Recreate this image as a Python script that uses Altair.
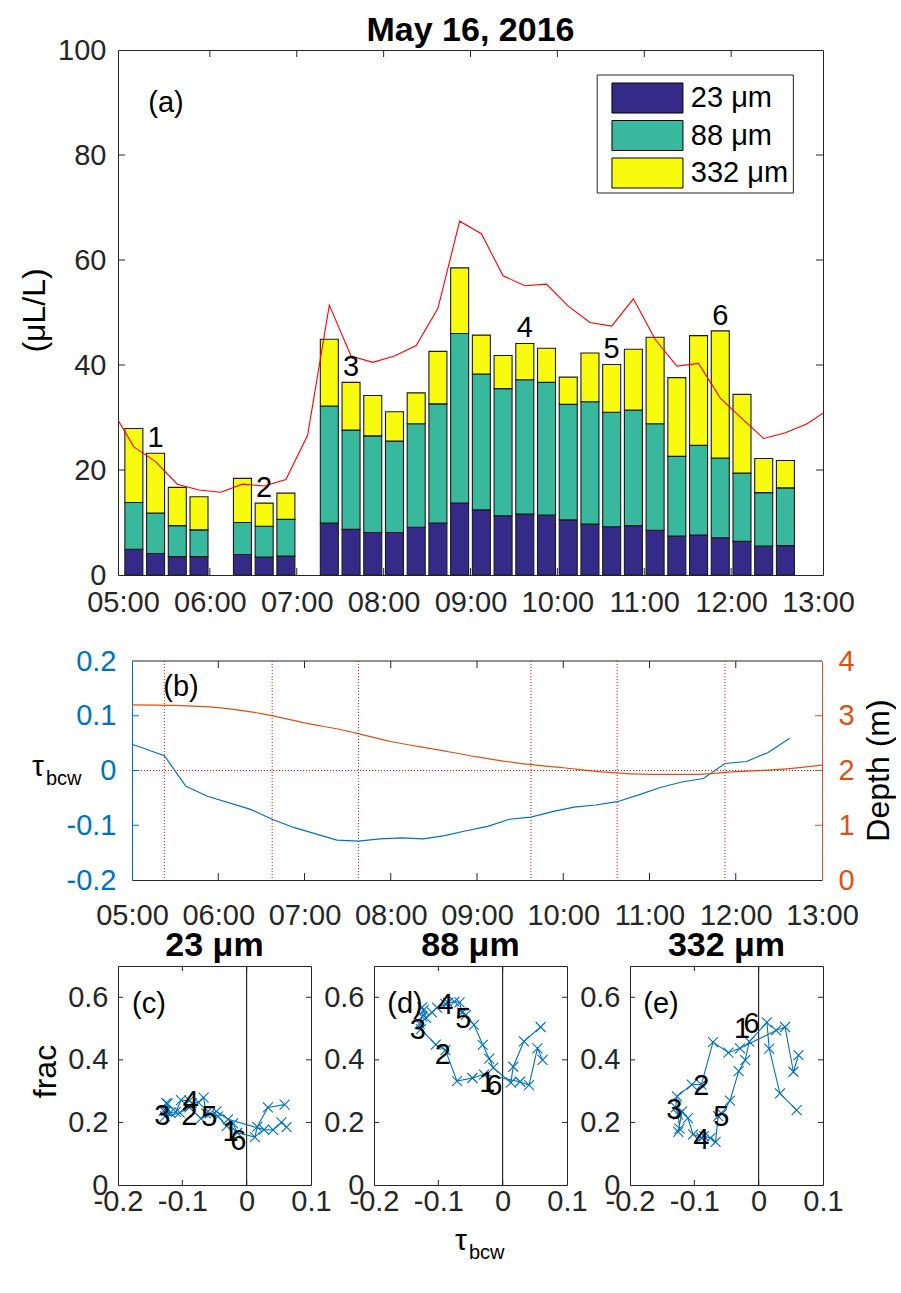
import altair as alt
import pandas as pd

FONT = "Liberation Sans"
AXIS_GREY = "#262626"
BLUE = "#0072BD"
ORANGE = "#D95319"
SIZE_NAMES = ["23 μm", "88 μm", "332 μm"]
SIZE_COLORS = ["#352A87", "#38B99E", "#F9FB0E"]

# ---------------- (a) volume concentration per 15-min bin ----------------
bar_times = ["05:07:30", "05:22:30", "05:37:30", "05:52:30", "06:22:30", "06:37:30",
             "06:52:30", "07:22:30", "07:37:30", "07:52:30", "08:07:30", "08:22:30",
             "08:37:30", "08:52:30", "09:07:30", "09:22:30", "09:37:30", "09:52:30",
             "10:07:30", "10:22:30", "10:37:30", "10:52:30", "11:07:30", "11:22:30",
             "11:37:30", "11:52:30", "12:07:30", "12:22:30", "12:37:30"]
vol_23 = [4.9, 4.1, 3.5, 3.5, 3.9, 3.4, 3.6, 9.9, 8.7, 8.1, 8.1, 9.1, 9.9, 13.7, 12.4,
          11.3, 11.6, 11.4, 10.5, 9.7, 9.2, 9.4, 8.5, 7.4, 7.6, 7.1, 6.4, 5.5, 5.6]
vol_88 = [8.9, 7.7, 5.9, 5.1, 6.1, 5.9, 7.0, 22.3, 18.9, 18.4, 17.4, 19.7, 22.7, 32.3, 25.9,
          24.2, 25.6, 25.3, 22.0, 23.3, 21.8, 22.0, 20.3, 15.2, 17.1, 15.2, 13.0, 10.2, 11.0]
vol_332 = [14.1, 11.4, 7.3, 6.3, 8.4, 4.4, 5.0, 12.7, 9.1, 7.7, 5.6, 5.9, 10.0, 12.5, 7.4,
           6.3, 6.9, 6.5, 5.2, 9.3, 9.1, 11.6, 16.5, 15.0, 20.9, 24.2, 15.0, 6.5, 5.2]

# red reference curve (15-min samples, runs past both ends of the axis)
curve_times = ["04:52:30", "05:07:30", "05:22:30", "05:37:30", "05:52:30", "06:07:30",
               "06:22:30", "06:37:30", "06:52:30", "07:07:30", "07:22:30", "07:37:30",
               "07:52:30", "08:07:30", "08:22:30", "08:37:30", "08:52:30", "09:07:30",
               "09:22:30", "09:37:30", "09:52:30", "10:07:30", "10:22:30", "10:37:30",
               "10:52:30", "11:07:30", "11:22:30", "11:37:30", "11:52:30", "12:07:30",
               "12:22:30", "12:37:30", "12:52:30", "13:07:30"]
curve_vals = [31.4, 24.4, 21.6, 17.3, 16.2, 15.75, 17.3, 16.95, 18.2, 26.6, 51.4, 41.7,
              40.5, 41.7, 43.7, 50.8, 67.4, 65.0, 57.0, 55.1, 55.4, 51.2, 48.1, 47.4,
              52.6, 44.9, 39.8, 40.3, 33.7, 29.8, 26.0, 27.1, 28.8, 31.6]

event_labels = ["1", "2", "3", "4", "5", "6"]
event_times = ["05:22:30", "06:37:30", "07:37:30", "09:37:30", "10:37:30", "11:52:30"]

# ---------------- (b) wave bed stress and water depth ----------------
tau_times = ["04:37:30", "04:52:30"] + bar_times
tau_bcw = [0.062, 0.054, 0.041, 0.027, -0.029, -0.047, -0.071, -0.089, -0.104, -0.127,
           -0.129, -0.125, -0.123, -0.125, -0.119, -0.110, -0.102, -0.089, -0.085, -0.075,
           -0.067, -0.063, -0.057, -0.0445, -0.031, -0.021, -0.0146, 0.0128, 0.0164,
           0.033, 0.059]
tau_at_start = 0.048  # value where the stress curve meets 05:00

depth_times = ["05:00", "05:30", "06:00", "06:30", "07:00", "07:30", "08:00", "08:30",
               "09:00", "09:30", "10:00", "10:30", "11:00", "11:30", "12:00", "12:30", "13:00"]
depth_m = [3.20, 3.19, 3.15, 3.04, 2.87, 2.72, 2.53, 2.39, 2.25, 2.13, 2.05, 1.97, 1.93,
           1.93, 1.98, 2.02, 2.10]

# ---------------- (c)-(e) volume fraction of each size class ----------------
frac_23 = [0.185, 0.20, 0.176, 0.177, 0.210, 0.235, 0.212, 0.248, 0.231, 0.219, 0.237,
           0.237, 0.260, 0.262, 0.231, 0.234, 0.271, 0.270, 0.262, 0.264, 0.279, 0.229,
           0.229, 0.219, 0.188, 0.197, 0.167, 0.153, 0.186, 0.248, 0.257]
frac_88 = [0.40, 0.437, 0.319, 0.330, 0.353, 0.342, 0.332, 0.431, 0.449, 0.498, 0.515,
           0.538, 0.559, 0.568, 0.534, 0.552, 0.567, 0.579, 0.582, 0.586, 0.584, 0.551,
           0.544, 0.512, 0.448, 0.404, 0.375, 0.327, 0.378, 0.459, 0.505]
frac_332 = [0.415, 0.362, 0.505, 0.494, 0.437, 0.423, 0.457, 0.321, 0.321, 0.283, 0.248,
            0.225, 0.180, 0.170, 0.235, 0.214, 0.162, 0.151, 0.156, 0.150, 0.138, 0.220,
            0.227, 0.270, 0.364, 0.399, 0.458, 0.520, 0.436, 0.293, 0.239]

# event numbers inside the fraction panels (tau, frac)
lab_c_tau = [-0.025, -0.089, -0.131, -0.087, -0.058, -0.013]
lab_c_frac = [0.169, 0.220, 0.222, 0.265, 0.217, 0.142]
lab_d_tau = [-0.024, -0.093, -0.132, -0.089, -0.061, -0.013]
lab_d_frac = [0.327, 0.417, 0.494, 0.575, 0.530, 0.318]
lab_e_tau = [-0.026, -0.089, -0.131, -0.089, -0.058, -0.011]
lab_e_frac = [0.498, 0.315, 0.241, 0.144, 0.218, 0.514]


def hours(stamp):
    parts = [int(p) for p in stamp.split(":")]
    sec = parts[2] if len(parts) > 2 else 0
    return parts[0] + parts[1] / 60 + sec / 3600


HOUR_LABEL = "(datum.value < 10 ? '0' : '') + datum.value + ':00'"
PLAIN_LABEL = "'' + datum.value"
LABEL_SIZE = 29
TITLE_SIZE = 32
HEAD_SIZE = 34


def text_tag(label, x, y, size=LABEL_SIZE, align="center"):
    return alt.Chart(pd.DataFrame({"tag": [label]})).mark_text(
        font=FONT, fontSize=size, align=align, baseline="middle", color="black"
    ).encode(x=alt.value(x), y=alt.value(y), text="tag:N")


def x_ticks(values, scale, axis, height, length, color):
    base = alt.Chart(pd.DataFrame({"tx": values})).encode(
        x=alt.X("tx:Q", scale=scale, axis=axis))
    return [
        base.mark_rule(color=color, strokeWidth=1).encode(
            y=alt.value(height), y2=alt.value(height - length)),
        base.mark_rule(color=color, strokeWidth=1).encode(
            y=alt.value(0), y2=alt.value(length)),
    ]


def y_ticks(values, scale, axis, x_from, x_to, color):
    return alt.Chart(pd.DataFrame({"ty": values})).mark_rule(
        color=color, strokeWidth=1).encode(
        y=alt.Y("ty:Q", scale=scale, axis=axis),
        x=alt.value(x_from), x2=alt.value(x_to))


def time_axis(pad, show_domain):
    return alt.Axis(
        values=list(range(5, 14)), labelExpr=HOUR_LABEL, title=None, ticks=False,
        domain=show_domain, domainColor=AXIS_GREY, grid=False, labelFont=FONT,
        labelFontSize=LABEL_SIZE, labelColor=AXIS_GREY, labelPadding=pad,
        labelFlush=False, labelOverlap=False)


# ======================= panel (a) =======================
W_A, H_A = 705, 525
x_a = alt.Scale(domain=[5, 13], nice=False, zero=False)
y_a = alt.Scale(domain=[0, 100], nice=False)
color_a = alt.Scale(domain=SIZE_NAMES, range=SIZE_COLORS)
X_AXIS_A = time_axis(13, False)
Y_AXIS_A = alt.Axis(
    values=[0, 20, 40, 60, 80, 100], title="(μL/L)", ticks=False, domain=False,
    grid=False, labelFont=FONT, labelFontSize=LABEL_SIZE, labelColor=AXIS_GREY,
    labelPadding=12, labelFlush=False, labelOverlap=False, titleFont=FONT,
    titleFontSize=TITLE_SIZE, titleFontWeight="normal", titleColor="black", titleX=-84,
    titleY=260, titleAngle=270, titleAlign="center", titleBaseline="middle")

bar_rows = []
for t, a, b, c in zip(bar_times, vol_23, vol_88, vol_332):
    for k, (name, v) in enumerate(zip(SIZE_NAMES, (a, b, c))):
        bar_rows.append({"h": hours(t), "size": name, "vol": v, "k": k})
bars_df = pd.DataFrame(bar_rows)

bars = alt.Chart(bars_df).mark_bar(size=18, stroke="#1a1a1a", strokeWidth=1.1).encode(
    x=alt.X("h:Q", scale=x_a, axis=X_AXIS_A),
    y=alt.Y("vol:Q", stack="zero", scale=y_a, axis=Y_AXIS_A),
    color=alt.Color("size:N", scale=color_a, legend=None),
    order=alt.Order("k:Q"),
)

curve_df = pd.DataFrame({"h": [hours(t) for t in curve_times], "v": curve_vals})
curve = alt.Chart(curve_df).mark_line(color="#FF0000", strokeWidth=1.1, clip=True).encode(
    x=alt.X("h:Q", scale=x_a, axis=X_AXIS_A), y=alt.Y("v:Q", scale=y_a, axis=Y_AXIS_A))

totals = {t: a + b + c for t, a, b, c in zip(bar_times, vol_23, vol_88, vol_332)}
ev_df = pd.DataFrame({"h": [hours(t) for t in event_times],
                      "top": [totals[t] for t in event_times], "lab": event_labels})
events_a = alt.Chart(ev_df).mark_text(
    font=FONT, fontSize=LABEL_SIZE, baseline="alphabetic", dy=-6, color="black").encode(
    x=alt.X("h:Q", scale=x_a, axis=X_AXIS_A), y=alt.Y("top:Q", scale=y_a, axis=Y_AXIS_A),
    text="lab:N")

# legend box in the upper right corner, laid out in axis units
px_h = 8 / W_A          # hours per pixel
px_v = 100 / H_A        # concentration units per pixel
leg_left, leg_right = 5 + 481 * px_h, 5 + 680 * px_h
leg_top, leg_bottom = 100 - 25 * px_v, 100 - 143 * px_v
sw_left, sw_right = 5 + 496 * px_h, 5 + 568 * px_h
row_mid = [100 - (48 + 37.5 * i) * px_v for i in range(3)]
half_row = 15 * px_v
legend_df = pd.DataFrame({
    "size": SIZE_NAMES, "yc": row_mid,
    "y0": [m - half_row for m in row_mid], "y1": [m + half_row for m in row_mid],
    "x0": [sw_left] * 3, "x1": [sw_right] * 3, "xt": [5 + 576 * px_h] * 3})
legend_frame = alt.Chart(pd.DataFrame(
    {"x0": [leg_left], "x1": [leg_right], "y0": [leg_bottom], "y1": [leg_top]})).mark_rect(
    fill="white", stroke=AXIS_GREY, strokeWidth=1).encode(
    x=alt.X("x0:Q", scale=x_a, axis=X_AXIS_A), x2="x1:Q",
    y=alt.Y("y0:Q", scale=y_a, axis=Y_AXIS_A), y2="y1:Q")
legend_swatch = alt.Chart(legend_df).mark_rect(stroke="black", strokeWidth=1).encode(
    x=alt.X("x0:Q", scale=x_a, axis=X_AXIS_A), x2="x1:Q",
    y=alt.Y("y0:Q", scale=y_a, axis=Y_AXIS_A), y2="y1:Q",
    color=alt.Color("size:N", scale=color_a, legend=None))
legend_text = alt.Chart(legend_df).mark_text(
    font=FONT, fontSize=LABEL_SIZE, align="left", baseline="middle", color="black").encode(
    x=alt.X("xt:Q", scale=x_a, axis=X_AXIS_A), y=alt.Y("yc:Q", scale=y_a, axis=Y_AXIS_A),
    text="size:N")

ticks_a = x_ticks(list(range(6, 13)), x_a, X_AXIS_A, H_A, 7, AXIS_GREY) + [
    y_ticks([20, 40, 60, 80], y_a, Y_AXIS_A, 0, 7, AXIS_GREY),
    y_ticks([20, 40, 60, 80], y_a, Y_AXIS_A, W_A - 7, W_A, AXIS_GREY),
]

panel_a = alt.layer(
    bars, curve, events_a, legend_frame, legend_swatch, legend_text,
    text_tag("(a)", 48, 53), *ticks_a
).properties(
    width=W_A, height=H_A,
    title=alt.TitleParams("May 16, 2016", font=FONT, fontSize=HEAD_SIZE,
                          fontWeight="bold", color="black", offset=-12, frame="group"),
)

# ======================= panel (b) =======================
W_B, H_B = 704, 219
OFF = 14
x_b = alt.Scale(domain=[5, 13], range=[OFF, W_B], nice=False, zero=False)
y_tau = alt.Scale(domain=[-0.2, 0.2], nice=False, zero=False)
y_dep = alt.Scale(domain=[0, 4], nice=False, zero=False)
X_AXIS_B = time_axis(21, True)

tau_line_df = pd.DataFrame(
    {"h": [5.0] + [hours(t) for t in tau_times if hours(t) >= 5],
     "tau": [tau_at_start] + [v for t, v in zip(tau_times, tau_bcw) if hours(t) >= 5]})
tau_line = alt.Chart(tau_line_df).mark_line(color=BLUE, strokeWidth=1.2).encode(
    x=alt.X("h:Q", scale=x_b, axis=X_AXIS_B),
    y=alt.Y("tau:Q", scale=y_tau, axis=alt.Axis(
        orient="left", offset=-OFF, values=[-0.2, -0.1, 0, 0.1, 0.2],
        labelExpr=PLAIN_LABEL, title=None, ticks=False, domainColor=BLUE,
        labelColor=BLUE, labelFont=FONT, labelFontSize=LABEL_SIZE, labelPadding=16,
        grid=False, labelFlush=False, labelOverlap=False)),
)

depth_df = pd.DataFrame({"h": [hours(t) for t in depth_times], "d": depth_m})
depth_line = alt.Chart(depth_df).mark_line(
    color=ORANGE, strokeWidth=1.2, interpolate="monotone").encode(
    x=alt.X("h:Q", scale=x_b, axis=X_AXIS_B),
    y=alt.Y("d:Q", scale=y_dep, axis=alt.Axis(
        orient="right", values=[0, 1, 2, 3, 4], title="Depth (m)", ticks=False,
        domainColor=ORANGE, labelColor=ORANGE, labelFont=FONT,
        labelFontSize=LABEL_SIZE, labelPadding=16, grid=False, labelFlush=False,
        labelOverlap=False, titleFont=FONT, titleFontSize=TITLE_SIZE,
        titleFontWeight="normal", titleColor="black", titleX=56, titleY=109,
        titleAngle=270, titleAlign="center", titleBaseline="middle")),
)

event_rules = alt.Chart(pd.DataFrame({"h": [hours(t) for t in event_times]})).mark_rule(
    color="#FF0000", strokeDash=[1, 2], strokeWidth=1).encode(
    x=alt.X("h:Q", scale=x_b, axis=X_AXIS_B))

zero_rule = alt.Chart(pd.DataFrame({"x0": [5], "x1": [13], "z": [0]})).mark_rule(
    color="#FF0000", strokeDash=[1, 2], strokeWidth=1).encode(
    x=alt.X("x0:Q", scale=x_b, axis=X_AXIS_B), x2="x1:Q",
    y=alt.Y("z:Q", scale=y_tau, axis=None))

top_edge = alt.Chart(pd.DataFrame({"x0": [5], "x1": [13]})).mark_rule(
    color=AXIS_GREY, strokeWidth=1).encode(
    x=alt.X("x0:Q", scale=x_b, axis=X_AXIS_B), x2="x1:Q", y=alt.value(0))

ticks_b = x_ticks(list(range(6, 13)), x_b, X_AXIS_B, H_B, 7, AXIS_GREY) + [
    y_ticks([-0.1, 0, 0.1], y_tau, None, OFF, OFF + 7, BLUE),
    y_ticks([1, 2, 3], y_dep, None, W_B - 7, W_B, ORANGE),
]

panel_b = alt.layer(
    tau_line, depth_line, event_rules, zero_rule, top_edge,
    text_tag("(b)", 63, 26), text_tag("τ", -80, 106, size=30),
    text_tag("bcw", -72, 118, size=20, align="left"), *ticks_b
).resolve_scale(y="independent").properties(
    width=W_B, height=H_B, view=alt.ViewBackground(strokeOpacity=0))

# ======================= panels (c)-(e) =======================
W_S, H_S = 193, 219
x_s = alt.Scale(domain=[-0.2, 0.1], nice=False, zero=False)
y_s = alt.Scale(domain=[0, 0.7], nice=False)
X_MARK = "M-1,-1L1,1M-1,1L1,-1"
X_AXIS_S = alt.Axis(
    values=[-0.2, -0.1, 0, 0.1], labelExpr=PLAIN_LABEL, title=None, ticks=False,
    domain=False, grid=False, labelFont=FONT, labelFontSize=LABEL_SIZE,
    labelColor=AXIS_GREY, labelPadding=2, labelFlush=False, labelOverlap=False)


def frac_axis(ylabel):
    if ylabel:
        return alt.Axis(
            values=[0, 0.2, 0.4, 0.6], labelExpr=PLAIN_LABEL, ticks=False, domain=False,
            grid=False, labelFont=FONT, labelFontSize=LABEL_SIZE, labelColor=AXIS_GREY,
            labelPadding=10, labelFlush=False, labelOverlap=False, title=ylabel,
            titleFont=FONT, titleFontSize=TITLE_SIZE, titleFontWeight="normal",
            titleColor="black", titleX=-73, titleY=105, titleAngle=270,
            titleAlign="center", titleBaseline="middle")
    return alt.Axis(
        values=[0, 0.2, 0.4, 0.6], labelExpr=PLAIN_LABEL, ticks=False, domain=False,
        grid=False, labelFont=FONT, labelFontSize=LABEL_SIZE, labelColor=AXIS_GREY,
        labelPadding=10, labelFlush=False, labelOverlap=False, title=None)


def frac_panel(frac, lab_tau, lab_frac, title, tag, ylabel, extra=()):
    y_axis = frac_axis(ylabel)
    df = pd.DataFrame({"i": list(range(len(tau_bcw))), "tau": tau_bcw, "f": frac})
    zero = alt.Chart(pd.DataFrame({"z": [0]})).mark_rule(
        color="black", strokeWidth=1).encode(x=alt.X("z:Q", scale=x_s, axis=X_AXIS_S))
    path = alt.Chart(df).mark_line(color=BLUE, strokeWidth=1.1).encode(
        x=alt.X("tau:Q", scale=x_s, axis=X_AXIS_S),
        y=alt.Y("f:Q", scale=y_s, axis=y_axis),
        order="i:Q",
    )
    marks = alt.Chart(df).mark_point(
        shape=X_MARK, size=100, filled=False, color=BLUE, strokeWidth=1.1, opacity=1
    ).encode(x=alt.X("tau:Q", scale=x_s, axis=X_AXIS_S),
             y=alt.Y("f:Q", scale=y_s, axis=y_axis))
    labels = alt.Chart(pd.DataFrame({"tau": lab_tau, "f": lab_frac, "lab": event_labels})
                       ).mark_text(font=FONT, fontSize=LABEL_SIZE, align="center",
                                   baseline="middle", color="black").encode(
        x=alt.X("tau:Q", scale=x_s, axis=X_AXIS_S), y=alt.Y("f:Q", scale=y_s, axis=y_axis),
        text="lab:N")
    ticks = x_ticks([-0.1, 0], x_s, X_AXIS_S, H_S, 5, AXIS_GREY) + [
        y_ticks([0.2, 0.4, 0.6], y_s, y_axis, 0, 5, AXIS_GREY),
        y_ticks([0.2, 0.4, 0.6], y_s, y_axis, W_S - 5, W_S, AXIS_GREY),
    ]
    return alt.layer(
        zero, path, marks, labels, text_tag(tag, 31, 38), *ticks, *extra
    ).properties(
        width=W_S, height=H_S,
        title=alt.TitleParams(title, font=FONT, fontSize=HEAD_SIZE, fontWeight="bold",
                              color="black", offset=3, frame="group"))


panel_c = frac_panel(frac_23, lab_c_tau, lab_c_frac, "23 μm", "(c)", "frac")
panel_d = frac_panel(frac_88, lab_d_tau, lab_d_frac, "88 μm", "(d)", None,
                     extra=(text_tag("τ", 87, H_S + 56, size=30),
                            text_tag("bcw", 95, H_S + 68, size=20, align="left")))
panel_e = frac_panel(frac_332, lab_e_tau, lab_e_frac, "332 μm", "(e)", None)

bottom_row = alt.hconcat(panel_c, panel_d, panel_e, spacing=63, bounds="flush")

chart = alt.vconcat(panel_a, panel_b, bottom_row, spacing=86, bounds="flush").properties(
    padding={"left": 17, "top": 13, "right": 2, "bottom": 10},
    background="white",
).configure_view(stroke=AXIS_GREY, strokeWidth=1).configure_axis(
    labelFont=FONT, titleFont=FONT).configure_title(font=FONT)

chart.save("out.html", embed_options={"renderer": "svg", "actions": False})
